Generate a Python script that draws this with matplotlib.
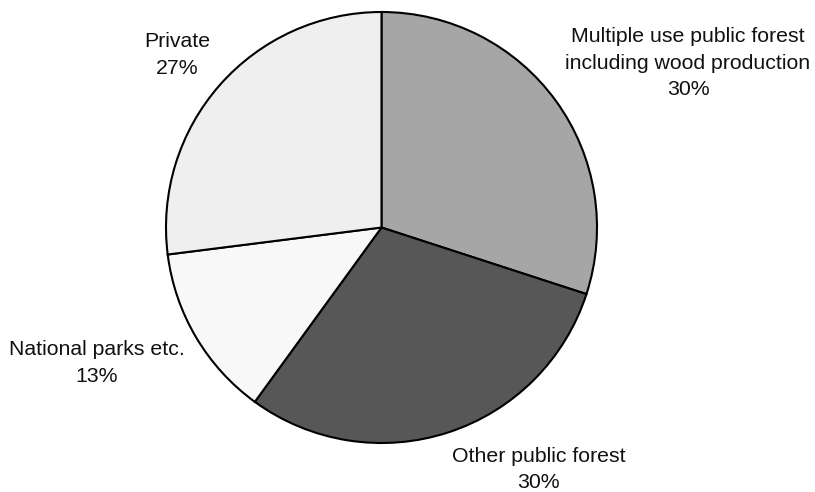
import matplotlib.pyplot as plt

plt.rcParams['font.family'] = ['Liberation Sans', 'DejaVu Sans']

labels = ["Multiple use public forest\nincluding wood production",
          "Other public forest",
          "National parks etc.",
          "Private"]
shares = [30, 30, 13, 27]
colors = ["#a6a6a6", "#575757", "#f8f8f8", "#efefef"]

# where each label block sits (data units, pie radius = 1)
label_pos = [(1.422, 0.763), (0.729, -1.123), (-1.320, -0.629), (-0.949, 0.800)]

fig = plt.figure(figsize=(8.15, 4.92), dpi=100)
ax = fig.add_axes([166/815, 49/492, 431/815, 431/492])

ax.pie(shares, colors=colors, startangle=90, counterclock=False, radius=1,
       wedgeprops=dict(edgecolor="black", linewidth=1.5))
ax.set_xlim(-1, 1)
ax.set_ylim(-1, 1)
ax.set_aspect("equal")
ax.axis("off")

for lab, val, (x, y) in zip(labels, shares, label_pos):
    ax.text(x, y, f"{lab}\n{val}%", ha="center", va="center", fontsize=15.3,
            linespacing=1.52, color="#111111", clip_on=False)

fig.savefig("out.png", dpi=100)
